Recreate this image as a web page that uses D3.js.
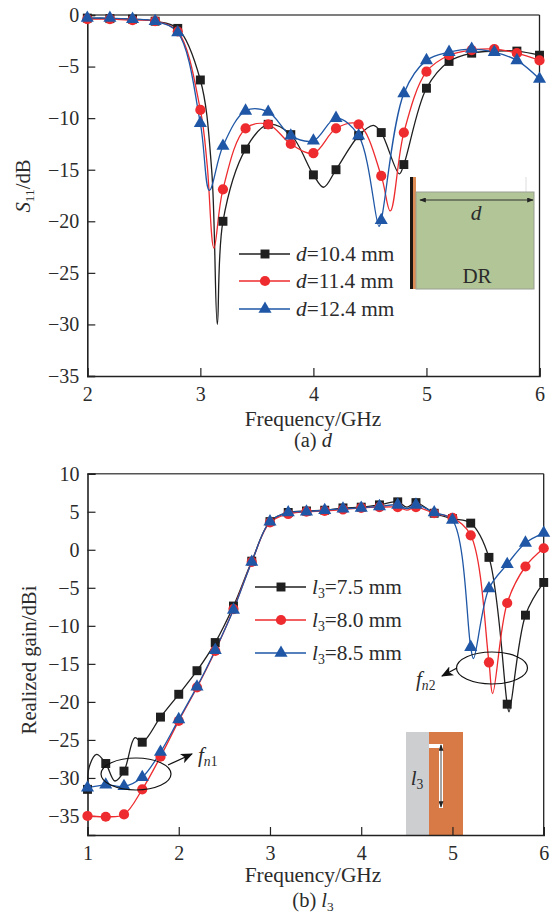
<!DOCTYPE html>
<html>
<head>
<meta charset="utf-8">
<script src="https://cdn.jsdelivr.net/npm/d3@7"></script>
<style>
  html, body { margin: 0; padding: 0; background: #fff; }
  svg { display: block; }
  text { font-family: "Liberation Serif", serif; fill: #2b2b2b; }
</style>
</head>
<body>
<script>
// ---- data ----
const s11Freq = [2, 2.2, 2.4, 2.6, 2.8, 3, 3.2, 3.4, 3.6, 3.8, 4, 4.2, 4.4, 4.6, 4.8, 5, 5.2, 5.4, 5.6, 5.8, 6]
const s11Black = [-0.3, -0.35, -0.4, -0.6, -1.3, -6.3, -20, -13, -10.6, -11.6, -15.5, -15, -11.7, -11.4, -14.5, -7.1, -4.5, -3.7, -3.5, -3.5, -3.9]
const s11Red = [-0.4, -0.4, -0.5, -0.6, -1.6, -9.2, -16.9, -11, -10.6, -12.5, -13.4, -11, -10.6, -15.6, -11.4, -5.5, -3.9, -3.4, -3.3, -3.7, -4.4]
const s11Blue = [-0.3, -0.3, -0.4, -0.6, -1.7, -10.5, -12.7, -9.3, -9.4, -11.7, -12.2, -10, -11.7, -19.9, -7.6, -4.4, -3.6, -3.3, -3.6, -4.4, -6.2]
// curve points that fall between the markers (resonance dips and bumps)
const s11BlackExtra = [[3.1, -15], [3.15, -30], [4.09, -16.7], [4.53, -10.7], [4.76, -15.4]]
const s11RedExtra = [[3.06, -14.5], [3.12, -22.6], [4.68, -19]]
const s11BlueExtra = [[3.08, -17], [4.58, -20.5]]
const s11Names = ['10.4', '11.4', '12.4']
const s11XTicks = [2, 3, 4, 5, 6]
const s11YTicks = [0, -5, -10, -15, -20, -25, -30, -35]

const gainFreq = [1, 1.2, 1.4, 1.6, 1.8, 2, 2.2, 2.4, 2.6, 2.8, 3, 3.2, 3.4, 3.6, 3.8, 4, 4.2, 4.4, 4.6, 4.8, 5, 5.2, 5.4, 5.6, 5.8, 6]
const gainBlack = [-31.5, -28.1, -29.1, -25.3, -22, -19, -15.9, -12.2, -7.4, -1.5, 3.7, 4.9, 5.1, 5.2, 5.5, 5.6, 5.9, 6.3, 6.2, 4.8, 4.1, 3.5, -1, -20.3, -8.6, -4.3]
const gainRed = [-35, -35.1, -34.8, -31.5, -27.2, -22.5, -18.1, -13.3, -7.8, -1.6, 3.6, 4.7, 5, 5.1, 5.3, 5.5, 5.6, 5.6, 5.6, 4.8, 4.2, 1.9, -14.8, -7, -2.2, 0.2]
const gainBlue = [-31.3, -30.9, -31.1, -29.9, -26.6, -22.3, -18, -13.2, -7.9, -1.6, 3.7, 4.9, 5, 5.2, 5.4, 5.5, 5.7, 5.9, 5.9, 4.9, 3.9, -12.8, -5.1, -1.9, 0.9, 2.2]
const gainBlackExtra = [[1.02, -28.5], [1.1, -26.9], [1.3, -30.4], [1.52, -24.7], [4.5, 5.6], [5.62, -21.3]]
const gainRedExtra = [[4.5, 5.2], [5.44, -18.9]]
const gainBlueExtra = [[4.5, 5.4], [5.23, -14.3]]
const gainNames = ['7.5', '8.0', '8.5']
const gainXTicks = [1, 2, 3, 4, 5, 6]
const gainYTicks = [10, 5, 0, -5, -10, -15, -20, -25, -30, -35]

const colors = ['#1f1f1f', '#ee2b2e', '#1f57a6']
const symbols = [d3.symbolSquare, d3.symbolCircle, d3.symbolTriangle]
const symbolSizes = [80, 82, 74]

const width = 553, height = 920
const svg = d3.select('body').append('svg').attr('width', width).attr('height', height)

const line = (x, y) => d3.line().x(d => x(d[0])).y(d => y(d[1])).curve(d3.curveCatmullRom.alpha(0.5))

// text with italic / subscript runs
const rich = (g, x, y, parts, size, anchor, rotate) => {
  const t = g.append('text').attr('font-size', size).attr('text-anchor', anchor || 'start')
    .attr('transform', `translate(${x},${y})` + (rotate ? ` rotate(${rotate})` : ''))
  parts.forEach(p => {
    const s = t.append('tspan').text(p.t)
    if (p.i) s.attr('font-style', 'italic')
    if (p.sub) s.attr('font-size', size * 0.65).attr('dy', size * 0.2)
    if (p.up) s.attr('dy', -size * 0.2)
  })
  return t
}

const drawPanel = (cfg) => {
  const g = svg.append('g')
  const x = d3.scaleLinear().domain(cfg.xDomain).range(cfg.xRange)
  const y = d3.scaleLinear().domain(cfg.yDomain).range(cfg.yRange)

  if (cfg.inset) cfg.inset(g, x, y)

  // frame
  g.append('line').attr('x1', cfg.xRange[0]).attr('x2', cfg.xRange[1]).attr('y1', cfg.yRange[1]).attr('y2', cfg.yRange[1])
    .attr('stroke', '#555').attr('stroke-width', 1.6)
  g.append('line').attr('x1', cfg.xRange[1]).attr('x2', cfg.xRange[1]).attr('y1', cfg.yRange[0]).attr('y2', cfg.yRange[1])
    .attr('stroke', '#222').attr('stroke-width', 1.3)

  const xAxis = g.append('g').attr('transform', `translate(0,${cfg.yRange[0]})`)
    .call(d3.axisBottom(x).tickValues(cfg.xTicks).tickSize(-8).tickPadding(11).tickFormat(d3.format('d')))
  const yAxis = g.append('g').attr('transform', `translate(${cfg.xRange[0]},0)`)
    .call(d3.axisLeft(y).tickValues(cfg.yTicks).tickSize(-8).tickPadding(8).tickFormat(d3.format('d')))
  ;[xAxis, yAxis].forEach(a => {
    a.selectAll('text').attr('font-size', 20).attr('font-family', '"Liberation Serif", serif').attr('fill', '#2b2b2b')
    a.selectAll('line').attr('stroke', '#222').attr('stroke-width', 1.2)
    a.select('.domain').attr('stroke', '#222').attr('stroke-width', 1.6)
  })

  // curves then markers
  cfg.series.forEach((s, i) => {
    const pts = s.values.map((v, k) => [cfg.freq[k], v])
    const all = pts.concat(s.extra).sort((a, b) => a[0] - b[0])
    g.append('path').attr('d', line(x, y)(all)).attr('fill', 'none').attr('stroke', colors[i]).attr('stroke-width', 1.3)
  })
  cfg.series.forEach((s, i) => {
    g.append('g').selectAll('path').data(s.values).join('path')
      .attr('d', d3.symbol(symbols[i], symbolSizes[i]))
      .attr('transform', (d, k) => `translate(${x(cfg.freq[k])},${y(d)})`)
      .attr('fill', colors[i])
  })

  // legend
  cfg.legendY.forEach((ly, i) => {
    const lg = g.append('g')
    lg.append('line').attr('x1', cfg.legendX).attr('x2', cfg.legendX + 51).attr('y1', ly).attr('y2', ly)
      .attr('stroke', colors[i]).attr('stroke-width', 1.3)
    lg.append('path').attr('d', d3.symbol(symbols[i], symbolSizes[i]))
      .attr('transform', `translate(${cfg.legendX + 26},${ly})`).attr('fill', colors[i])
    rich(lg, cfg.legendX + 57, ly + 7, cfg.legendLabel(i), 21.3)
  })

  rich(g, cfg.xLabelX, cfg.xLabelY, [{t: 'Frequency/GHz'}], 21.4, 'middle')
  rich(g, cfg.xLabelX, cfg.captionY, cfg.caption, 20.5, 'middle')
  rich(g, cfg.yLabel.x, cfg.yLabel.y, cfg.yLabel.parts, 20.7, 'middle', -90)
  if (cfg.notes) cfg.notes(g, x, y)
}

const arrow = (g, x1, y1, x2, y2) => {
  g.append('line').attr('x1', x1).attr('y1', y1).attr('x2', x2).attr('y2', y2)
    .attr('stroke', '#111').attr('stroke-width', 1.3).attr('marker-end', 'url(#head)')
}

const defs = svg.append('defs')
defs.append('marker').attr('id', 'head').attr('viewBox', '0 0 12 10').attr('refX', 11).attr('refY', 5)
  .attr('markerWidth', 12).attr('markerHeight', 10).attr('markerUnits', 'userSpaceOnUse').attr('orient', 'auto')
  .append('path').attr('d', 'M0,0L12,5L0,10L3,5Z').attr('fill', '#111')
const smallHead = (id, orient) => defs.append('marker').attr('id', id).attr('viewBox', '0 0 8 6').attr('refX', 7).attr('refY', 3)
  .attr('markerWidth', 7).attr('markerHeight', 5).attr('markerUnits', 'userSpaceOnUse').attr('orient', orient)
  .append('path').attr('d', 'M0,0L8,3L0,6Z').attr('fill', '#222')
smallHead('tip', 'auto-start-reverse')

drawPanel({
  freq: s11Freq,
  xDomain: [2, 6], xRange: [87.3, 539.5], yDomain: [-35, 0], yRange: [376, 15],
  xTicks: s11XTicks, yTicks: s11YTicks,
  series: [
    {values: s11Black, extra: s11BlackExtra},
    {values: s11Red, extra: s11RedExtra},
    {values: s11Blue, extra: s11BlueExtra}
  ],
  legendX: 239, legendY: [254, 281, 309],
  legendLabel: i => [{t: 'd', i: true}, {t: `=${s11Names[i]} mm`}],
  xLabelX: 313, xLabelY: 426, captionY: 447,
  caption: [{t: '(a) '}, {t: 'd', i: true}],
  yLabel: {x: 30, y: 186, parts: [{t: 'S', i: true}, {t: '11', sub: true}, {t: '/dB', up: true}]},
  inset: null,
  notes: (g) => {
    // dielectric resonator sketch
    g.append('rect').attr('x', 410).attr('y', 177).attr('width', 3).attr('height', 112).attr('fill', '#1c1512')
    g.append('rect').attr('x', 413).attr('y', 177).attr('width', 3).attr('height', 112).attr('fill', '#df8c55')
    g.append('line').attr('x1', 526).attr('x2', 526).attr('y1', 177).attr('y2', 192).attr('stroke', '#ddd')
    g.append('rect').attr('x', 416).attr('y', 192).attr('width', 118).attr('height', 97)
      .attr('fill', '#b2c596').attr('stroke', '#9a9f92').attr('stroke-width', 1)
    g.append('line').attr('x1', 420).attr('x2', 533).attr('y1', 200).attr('y2', 200)
      .attr('stroke', '#222').attr('stroke-width', 0.9)
      .attr('marker-start', 'url(#tip)').attr('marker-end', 'url(#tip)')
    rich(g, 476, 220, [{t: 'd', i: true}], 21.5, 'middle')
    rich(g, 477, 283, [{t: 'DR'}], 21, 'middle')
  }
})

drawPanel({
  freq: gainFreq,
  xDomain: [1, 6], xRange: [87.5, 543.7], yDomain: [-37.5, 10], yRange: [835, 473.7],
  xTicks: gainXTicks, yTicks: gainYTicks,
  series: [
    {values: gainBlack, extra: gainBlackExtra},
    {values: gainRed, extra: gainRedExtra},
    {values: gainBlue, extra: gainBlueExtra}
  ],
  legendX: 255, legendY: [587, 620, 653],
  legendLabel: i => [{t: 'l', i: true}, {t: '3', sub: true}, {t: `=${gainNames[i]} mm`, up: true}],
  xLabelX: 313, xLabelY: 882, captionY: 907,
  caption: [{t: '(b) '}, {t: 'l', i: true}, {t: '3', sub: true}],
  yLabel: {x: 36, y: 660, parts: [{t: 'Realized gain/dBi'}]},
  inset: (g) => {
    // feed slot sketch, sits under the axis ticks
    g.append('rect').attr('x', 406).attr('y', 732).attr('width', 23).attr('height', 103).attr('fill', '#cdced0')
    g.append('rect').attr('x', 429).attr('y', 732).attr('width', 34).attr('height', 103).attr('fill', '#d77a45')
    g.append('rect').attr('x', 429).attr('y', 744).attr('width', 14).attr('height', 4).attr('fill', '#fff')
    g.append('rect').attr('x', 439).attr('y', 744).attr('width', 4).attr('height', 64).attr('fill', '#fff')
    g.append('line').attr('x1', 441).attr('x2', 441).attr('y1', 745).attr('y2', 807)
      .attr('stroke', '#333').attr('stroke-width', 0.9)
      .attr('marker-start', 'url(#tip)').attr('marker-end', 'url(#tip)')
    rich(g, 417, 785, [{t: 'l', i: true}, {t: '3', sub: true}], 21, 'middle')
  },
  notes: (g) => {
    g.append('ellipse').attr('cx', 136).attr('cy', 774).attr('rx', 35).attr('ry', 16)
      .attr('fill', 'none').attr('stroke', '#111').attr('stroke-width', 1.2)
    arrow(g, 168, 765, 192, 754)
    rich(g, 198, 762, [{t: 'f', i: true}, {t: 'n', sub: true, i: true}, {t: '1'}].map(p => p), 21)
      .selectAll('tspan').filter((d, i) => i === 2).attr('font-size', 13.6)
    g.append('ellipse').attr('cx', 492).attr('cy', 668).attr('rx', 35.5).attr('ry', 16)
      .attr('fill', 'none').attr('stroke', '#111').attr('stroke-width', 1.2)
    arrow(g, 457, 668, 442, 676)
    rich(g, 416, 686, [{t: 'f', i: true}, {t: 'n', sub: true, i: true}, {t: '2'}], 21)
      .selectAll('tspan').filter((d, i) => i === 2).attr('font-size', 13.6)
  }
})
</script>
</body>
</html>
